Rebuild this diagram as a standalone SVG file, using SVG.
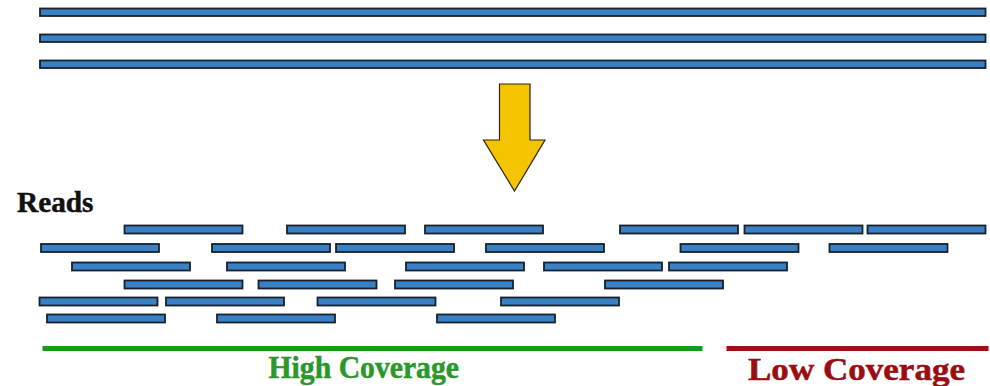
<svg xmlns="http://www.w3.org/2000/svg" width="990" height="386" viewBox="0 0 990 386">
  <style>
    .genome { fill: #3a80c4; stroke: #18212c; stroke-width: 1.8; }
    .read { fill: #3a80c4; stroke: #18212c; stroke-width: 1.8; }
    .label { font-family: "Liberation Serif", "Times New Roman", serif; font-weight: bold; stroke-width: 0.5; }
  </style>
  <rect width="990" height="386" fill="#ffffff"/>

  <!-- Genome copies -->
  <g id="genome">
    <rect class="genome" x="40" y="8.5" width="945.5" height="7.5"/>
    <rect class="genome" x="40" y="34.5" width="945.5" height="7.5"/>
    <rect class="genome" x="40" y="60.5" width="945.5" height="7.5"/>
  </g>

  <!-- Fragmentation arrow -->
  <g id="arrow">
    <polygon points="499.5,84 530,84 530,140 545,140 514.5,191 483.5,140 499.5,140" fill="#f5c400" stroke="#2a2410" stroke-width="1.2" stroke-linejoin="miter"/>
  </g>

  <g id="reads-label">
    <text class="label" x="17" y="211.5" font-size="30" fill="#111111" stroke="#111111" textLength="76.5" lengthAdjust="spacingAndGlyphs">Reads</text>
  </g>

  <!-- Sequencing reads -->
  <g id="reads">
    <!-- row 1 -->
    <rect class="read" x="124.5" y="225.5" width="118" height="8"/>
    <rect class="read" x="287" y="225.5" width="118" height="8"/>
    <rect class="read" x="425" y="225.5" width="118" height="8"/>
    <rect class="read" x="620" y="225.5" width="118" height="8"/>
    <rect class="read" x="744.5" y="225.5" width="118" height="8"/>
    <rect class="read" x="867.5" y="225.5" width="118" height="8"/>
    <!-- row 2 -->
    <rect class="read" x="41" y="244" width="118" height="8"/>
    <rect class="read" x="212" y="244" width="118" height="8"/>
    <rect class="read" x="336" y="244" width="118" height="8"/>
    <rect class="read" x="486" y="244" width="118" height="8"/>
    <rect class="read" x="680.5" y="244" width="118" height="8"/>
    <rect class="read" x="829.5" y="244" width="118" height="8"/>
    <!-- row 3 -->
    <rect class="read" x="72" y="262.5" width="118" height="8"/>
    <rect class="read" x="227" y="262.5" width="118" height="8"/>
    <rect class="read" x="406" y="262.5" width="118" height="8"/>
    <rect class="read" x="544" y="262.5" width="118" height="8"/>
    <rect class="read" x="669" y="262.5" width="118" height="8"/>
    <!-- row 4 -->
    <rect class="read" x="124.5" y="280.5" width="118" height="8"/>
    <rect class="read" x="258.5" y="280.5" width="118" height="8"/>
    <rect class="read" x="395" y="280.5" width="118" height="8"/>
    <rect class="read" x="605" y="280.5" width="118" height="8"/>
    <!-- row 5 -->
    <rect class="read" x="39.5" y="297.5" width="118" height="8"/>
    <rect class="read" x="166" y="297.5" width="118" height="8"/>
    <rect class="read" x="317.5" y="297.5" width="118" height="8"/>
    <rect class="read" x="501" y="297.5" width="118" height="8"/>
    <!-- row 6 -->
    <rect class="read" x="47" y="314.5" width="118" height="8"/>
    <rect class="read" x="217" y="314.5" width="118" height="8"/>
    <rect class="read" x="437" y="314.5" width="118" height="8"/>
  </g>

  <!-- Coverage spans -->
  <g id="high-coverage">
    <rect x="42.5" y="346" width="660" height="5" fill="#1a9a1a"/>
    <text class="label" x="268.5" y="377.5" font-size="30.5" fill="#2a982a" stroke="#2a982a" textLength="190.5" lengthAdjust="spacingAndGlyphs">High Coverage</text>
  </g>
  <g id="low-coverage">
    <rect x="726.5" y="346" width="262" height="5" fill="#9c0f12"/>
    <text class="label" x="748" y="379.5" font-size="30.5" fill="#9a0e12" stroke="#9a0e12" textLength="217" lengthAdjust="spacingAndGlyphs">Low Coverage</text>
  </g>
</svg>
